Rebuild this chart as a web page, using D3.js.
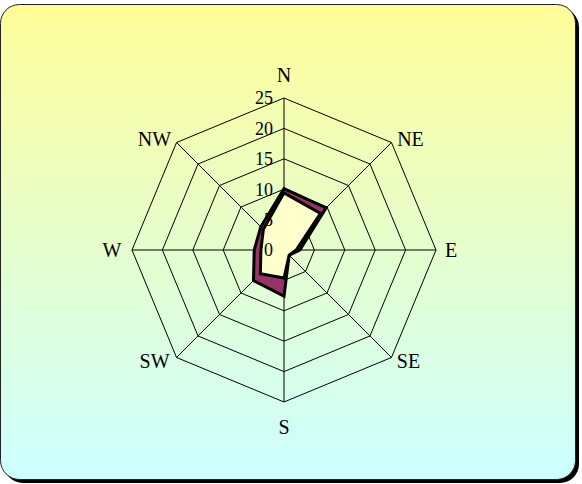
<!DOCTYPE html>
<html><head><meta charset="utf-8">
<script src="https://cdn.jsdelivr.net/npm/d3@7"></script>
<style>html,body{margin:0;padding:0;background:#fff;}svg{display:block;}</style>
</head><body>
<script>
const directions = ["N","NE","E","SE","S","SW","W","NW"];
const outerSeries = [10.1, 9.8, 2.6, 1.2, 7.6, 7.1, 4.9, 5.4];
const innerSeries = [9.4, 8.5, 2.0, 1.2, 4.6, 5.5, 3.8, 4.8];
const tickValues = [0, 5, 10, 15, 20, 25];

const W = 582, H = 484;
const cx = 284, cy = 250, R = 152;
const svg = d3.select("body").append("svg").attr("width", W).attr("height", H);
const defs = svg.append("defs");
const grad = defs.append("linearGradient").attr("id","bg").attr("x1",0).attr("y1",0).attr("x2",0).attr("y2",1);
grad.append("stop").attr("offset","0%").attr("stop-color","#FFFD99");
grad.append("stop").attr("offset","100%").attr("stop-color","#CCFFFF");

// frame with shadow
svg.append("rect").attr("x",4).attr("y",8).attr("width",575).attr("height",475).attr("rx",19).attr("fill","#000");
svg.append("rect").attr("x",0.5).attr("y",4.5).attr("width",575).attr("height",475).attr("rx",19)
  .attr("fill","url(#bg)").attr("stroke","#222").attr("stroke-width",1);

const r = d3.scaleLinear().domain([0, 25]).range([0, R]);
const angle = d3.scalePoint().domain(directions).range([0, 2*Math.PI*(7/8)]);
const pt = (d, v) => [cx + r(v)*Math.sin(angle(d)), cy - r(v)*Math.cos(angle(d))];

const g = svg.append("g");
tickValues.filter(t => t > 0).forEach(t => {
  g.append("path").attr("d", d3.line()(directions.map(d => pt(d, t))) + "Z")
    .attr("fill","none").attr("stroke","#000").attr("stroke-width",1);
});
directions.forEach(d => {
  const [x, y] = pt(d, 25);
  g.append("line").attr("x1",cx).attr("y1",cy).attr("x2",x).attr("y2",y)
    .attr("stroke","#000").attr("stroke-width",1);
});

const line = d3.lineRadial().angle((d,i) => angle(directions[i])).radius(d => r(d)).curve(d3.curveLinearClosed);
const series = svg.append("g").attr("transform",`translate(${cx},${cy})`);
series.append("path").attr("d", line(outerSeries)).attr("fill","#993366").attr("stroke","#000").attr("stroke-width",3).attr("stroke-linejoin","miter");
series.append("path").attr("d", line(innerSeries)).attr("fill","#FFFFCC").attr("stroke","#000").attr("stroke-width",3).attr("stroke-linejoin","miter");

const font = "'Liberation Serif', 'DejaVu Serif', serif";
tickValues.forEach(t => {
  svg.append("text").attr("x", cx - 11).attr("y", cy - r(t)).attr("dy","0.35em")
    .attr("text-anchor","end").attr("font-family",font).attr("font-size",18).attr("fill","#000").text(t);
});
const labelOffsets = {N:[0,-23], NE:[19,-4], E:[15,0], SE:[17,4], S:[0,25], SW:[-22,4], W:[-20,0], NW:[-22,-4]};
directions.forEach(d => {
  const [x, y] = pt(d, 25);
  const o = labelOffsets[d];
  svg.append("text").attr("x", x + o[0]).attr("y", y + o[1]).attr("dy","0.35em")
    .attr("text-anchor","middle").attr("font-family",font).attr("font-size",20).attr("fill","#000").text(d);
});
</script>
</body></html>
